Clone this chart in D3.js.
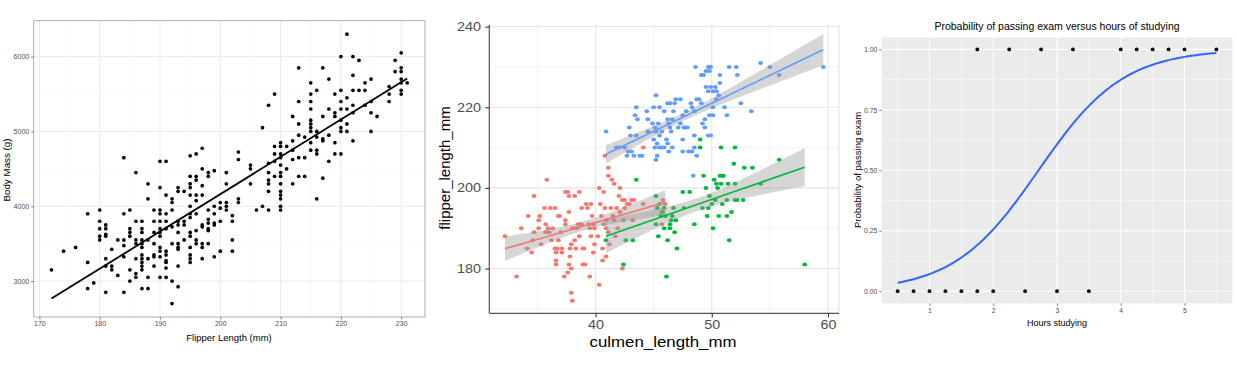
<!DOCTYPE html>
<html lang="en">
<head>
  <meta charset="UTF-8">
  <script src="https://d3js.org/d3.v7.min.js"></script>
  <title>penguins + logistic</title>
  <style>
    body { margin: 0; background: #fff; }
    svg { display: block; font-family: "Liberation Sans", Arial, sans-serif; }
  </style>
</head>
<body>
  <svg width="1237" height="378"></svg>
  <script>
    // ---- panel 1 : body mass by flipper length
    const bodyMassByFlipper = [
      [172, [3150]], [174, [3400]], [176, [3450]], [178, [3900, 3250, 2900]], [179, [2975]],
      [180, [3950, 3800, 3700, 3600, 3550]],
      [181, [3750, 3700, 3625, 3600, 3300, 3200, 2850]],
      [182, [3425, 3200, 3150]], [183, [3550, 3075]],
      [184, [4650, 3900, 3550, 3475, 3325, 2850]],
      [185, [3950, 3700, 3650, 3600, 3150, 3000]],
      [186, [4450, 3800, 3550, 3500, 3300, 3100, 3050]],
      [187, [3800, 3700, 3650, 3550, 3500, 3450, 3350, 3300, 3250, 3200, 3150, 2900]],
      [188, [4300, 4100, 3550, 3300, 3050, 2900]],
      [189, [3950, 3800, 3650, 3500, 3350, 3325, 3200]],
      [190, [4600, 4250, 3950, 3900, 3800, 3700, 3650, 3600, 3450, 3400, 3325, 3050]],
      [191, [4600, 4150, 3900, 3800, 3700, 3400, 3350, 3275, 3250, 3175, 3050]],
      [192, [4100, 4050, 3950, 3725, 3500, 3000, 2700]],
      [193, [4250, 4200, 3800, 3750, 3650, 3500, 3450, 3425, 3200, 2925]],
      [194, [4200, 3800, 3750, 3550]],
      [195, [4675, 4400, 4300, 4250, 4150, 4000, 3900, 3850, 3650, 3600, 3450, 3350, 3300, 3250]],
      [196, [4700, 4400, 4350, 4150, 4075, 3900, 3675, 3550, 3500]],
      [197, [4775, 4500, 4275, 4150, 3750, 3725, 3500, 3450, 3300]],
      [198, [4450, 4400, 3950, 3825, 3775, 3700, 3675, 3500]],
      [199, [4475, 4000, 3900, 3775, 3750, 3325]],
      [200, [4050, 3975, 3800, 3400]],
      [201, [4450, 4300, 4050, 4000, 3950]],
      [202, [3875, 3800, 3550, 3400]],
      [203, [4725, 4625, 4100, 4050]],
      [205, [4550, 4500, 4300]], [206, [3950]], [207, [5050, 4000]],
      [208, [5350, 4575, 4450, 4350, 4300, 4200, 3950]],
      [209, [5500, 4800, 4700, 4600, 4400]],
      [210, [4850, 4800, 4700, 4650, 4550, 4450, 4400, 4300, 4200, 4150, 4100, 4000, 3950]],
      [211, [4800, 4500]],
      [212, [5200, 4875, 4750, 4625, 4300]],
      [213, [5850, 5400, 5100, 4950, 4650, 4400]],
      [214, [4925, 4650, 4400]],
      [215, [5650, 5500, 5400, 5300, 5150, 5100, 5050, 5000, 4850, 4750]],
      [216, [5550, 5000, 4925, 4750, 4700, 4100]],
      [217, [5850, 5200, 4900, 4875, 4375]],
      [218, [5700, 5300, 4950, 4600]],
      [219, [5500, 5250, 5200, 4850, 4700]],
      [220, [6000, 5550, 5400, 5300, 5150, 5050, 5000, 4700]],
      [221, [6300, 5450, 5300, 5100, 5000]],
      [222, [6000, 5750, 5550, 5350, 5250, 4875]],
      [223, [5950, 5550]], [224, [5650, 5550, 5350]],
      [225, [5700, 5400, 5250, 5000]], [226, [5200]],
      [228, [5600, 5500, 5400]], [229, [5950, 5800]],
      [230, [6050, 5850, 5800, 5700, 5650, 5550, 5500]], [231, [5650]]
    ];
    const flipperTicks = [170, 180, 190, 200, 210, 220, 230];
    const massTicks = [3000, 4000, 5000, 6000];

    // ---- panel 2 : [culmen_length_mm, flipper_length_mm] per species
    const adelie = [
      [32.2,188],[33.2,178],[33.6,190],[34.1,185],[34.5,184],[34.7,198],[34.6,187],[34.2,193],[34.7,189],
      [35.1,192],[35.2,193],[35.1,190],[35.3,186],[35.6,195],[35.7,191],[35.7,189],[35.8,202],[35.9,190],
      [36.1,195],[36.0,189],[36.2,187],[36.3,190],[36.5,195],[36.5,185],[36.6,184],[36.6,182],[36.6,181],
      [36.7,185],[36.8,187],[36.8,193],[36.9,193],[37.0,189],[37.1,185],[37.1,184],[37.3,178],[37.4,199],
      [37.6,199],[37.7,198],[37.7,194],[37.4,192],[37.4,191],[37.6,179],[37.7,181],[37.8,183],[37.8,185],
      [37.9,186],[37.9,174],[38.0,172],[37.9,180],[38.0,190],[38.2,198],[38.2,190],[38.2,187],[38.3,185],
      [38.4,190],[38.5,191],[38.6,188],[38.6,199],[38.7,191],[38.8,195],[38.8,191],[38.9,181],[38.9,185],
      [39.0,185],[39.1,181],[39.2,196],[39.3,195],[39.4,191],[39.5,190],[39.5,178],[39.6,196],[39.6,188],
      [39.7,193],[39.8,191],[39.9,190],[39.8,184],[39.9,186],[40.2,188],[40.3,176],[40.4,196],[40.3,200],
      [40.5,193],[40.6,182],[40.7,199],[40.7,191],[40.6,185],[40.8,195],[40.9,190],[40.9,192],[40.9,183],
      [41.1,203],[41.1,205],[41.1,189],[41.2,186],[41.3,195],[41.4,202],[41.5,193],[41.6,201],[41.6,192],
      [41.7,188],[41.8,195],[41.9,190],[42.0,198],[42.1,200],[42.1,194],[42.3,197],[42.3,180],[42.4,192],
      [42.5,197],[42.5,195],[42.7,196],[42.9,196],[43.1,197],[43.3,197],[43.2,192],[40.8,208],[44.1,210],
      [44.1,196],[45.8,197],[46.0,196],[45.8,194],[45.7,191]
    ];
    const chinstrap = [
      [43.2,187],[43.5,202],[45.2,198],[45.2,191],[45.4,188],[45.5,196],[45.7,194],[45.6,193],[45.9,195],
      [46.0,193],[45.9,190],[46.1,178],[46.2,187],[46.4,191],[46.4,190],[46.5,192],[46.6,193],[46.7,195],
      [46.8,189],[46.9,192],[47.0,185],[47.5,199],[47.6,195],[48.1,199],[48.5,191],[49.2,195],[49.3,203],
      [49.5,200],[49.6,193],[49.7,195],[49.8,198],[50.0,196],[50.1,190],[50.2,202],[50.3,197],[50.4,201],
      [50.5,200],[50.6,193],[50.7,203],[50.9,203],[51.0,203],[50.8,201],[50.9,196],[51.3,193],[51.4,201],
      [51.3,197],[51.5,187],[51.7,194],[51.9,206],[52.0,201],[52.0,197],[52.2,197],[52.7,197],[52.8,205],
      [53.5,205],[54.2,201],[55.8,207],[58.0,181],[49.0,212],[49.0,210],[50.8,210],[52.0,210],[40.9,187],
      [42.6,187],[42.4,181],[45.3,195]
    ];
    const gentoo = [
      [40.9,214],[41.8,210],[42.0,210],[42.8,209],[42.7,208],[43.1,209],[43.3,208],[43.8,208],[44.0,208],
      [42.9,215],[43.5,220],[43.4,218],[43.6,217],[43.5,213],[44.4,219],[44.5,214],[44.5,217],[45.0,220],
      [45.2,223],[45.1,215],[45.0,212],[45.2,214],[45.3,211],[45.5,210],[45.1,210],[45.7,210],[45.9,210],
      [45.2,207],[45.3,208],[45.5,220],[45.7,214],[45.9,219],[46.1,212],[46.2,221],[46.4,221],[46.2,217],
      [46.3,216],[46.4,215],[46.6,217],[46.2,211],[46.3,209],[46.6,210],[46.7,219],[46.9,222],[47.3,222],
      [47.1,215],[47.3,216],[47.5,218],[47.6,215],[47.5,212],[47.7,215],[47.9,215],[47.5,209],[48.0,209],
      [48.2,221],[48.3,220],[48.5,219],[48.7,222],[48.9,222],[49.1,221],[48.5,213],[48.5,210],[48.3,209],
      [49.2,216],[49.4,215],[49.4,217],[49.7,213],[48.6,230],[49.3,228],[49.5,229],[49.7,230],[49.9,230],
      [49.8,229],[49.1,228],[49.5,225],[49.7,224],[49.9,225],[50.1,224],[50.3,225],[50.4,224],[50.7,226],
      [50.7,228],[50.6,223],[50.1,220],[50.4,222],[49.8,218],[50.1,218],[51.3,218],[51.1,220],[51.5,230],
      [52.1,230],[52.2,228],[52.5,221],[53.4,219],[54.2,231],[55.0,230],[55.8,228],[59.6,230],[48.4,203],
      [49.9,213],[48.7,208],[42.5,210],[43.0,213],[44.9,216],[45.4,216],[46.8,221],[45.5,213],[46.5,214],
      [47.8,219]
    ];
    const culmenTicks = [40, 50, 60];
    const flipperLenTicks = [180, 200, 220, 240];

    // ---- panel 3 : hours studied vs pass (0/1)
    const hoursStudied = [0.5, 0.75, 1, 1.25, 1.5, 1.75, 1.75, 2, 2.25, 2.5, 2.75, 3, 3.25, 3.5, 4, 4.25, 4.5, 4.75, 5, 5.5];
    const passedExam   = [0, 0, 0, 0, 0, 0, 1, 0, 1, 0, 1, 0, 1, 0, 1, 1, 1, 1, 1, 1];
    const hoursTicks = [1, 2, 3, 4, 5];
    const probTicks = [0, 0.25, 0.5, 0.75, 1];

    const svg = d3.select("svg");

    // least squares line with 95% band, like geom_smooth(method = "lm")
    function linearFit(pts, steps) {
      const n = pts.length;
      const mx = d3.mean(pts, d => d[0]), my = d3.mean(pts, d => d[1]);
      const sxx = d3.sum(pts, d => (d[0] - mx) ** 2);
      const sxy = d3.sum(pts, d => (d[0] - mx) * (d[1] - my));
      const b = sxy / sxx, a = my - b * mx;
      const s = Math.sqrt(d3.sum(pts, d => (d[1] - a - b * d[0]) ** 2) / (n - 2));
      const t = 1.96 + 2.4 / (n - 2);
      const [lo, hi] = d3.extent(pts, d => d[0]);
      return d3.range(steps).map(i => {
        const x = lo + (hi - lo) * i / (steps - 1);
        const y = a + b * x;
        const se = s * Math.sqrt(1 / n + (x - mx) ** 2 / sxx);
        return { x, y, lo: y - t * se, hi: y + t * se };
      });
    }

    // logistic regression by newton steps, like glm(family = binomial)
    function logisticFit(xs, ys) {
      let b0 = 0, b1 = 0;
      for (let it = 0; it < 40; it++) {
        let g0 = 0, g1 = 0, h00 = 0, h01 = 0, h11 = 0;
        xs.forEach((x, i) => {
          const p = 1 / (1 + Math.exp(-(b0 + b1 * x)));
          const w = p * (1 - p);
          g0 += ys[i] - p; g1 += (ys[i] - p) * x;
          h00 += w; h01 += w * x; h11 += w * x * x;
        });
        const det = h00 * h11 - h01 * h01;
        b0 += (h11 * g0 - h01 * g1) / det;
        b1 += (-h01 * g0 + h00 * g1) / det;
      }
      return x => 1 / (1 + Math.exp(-(b0 + b1 * x)));
    }

    function styleAxis(g, size, color) {
      g.attr("font-family", null).attr("font-size", size);
      g.select(".domain").remove();
      g.selectAll(".tick line").attr("stroke", "#333").attr("stroke-width", 0.6);
      g.selectAll(".tick text").attr("fill", color);
    }

    // ================= panel 1 =================
    const penguinMass = bodyMassByFlipper.flatMap(([f, ms]) => ms.map(m => [f, m]));
    const x1 = d3.scaleLinear().domain([169.05, 233.95]).range([33.7, 425]);
    const y1 = d3.scaleLinear().domain([2520, 6480]).range([317, 20.7]);
    const p1 = svg.append("g");

    const minorX1 = flipperTicks.map(v => v + 5).filter(v => v < 233.95);
    const minorY1 = massTicks.map(v => v - 500).concat([6500]).filter(v => v > 2520 && v < 6480);
    p1.selectAll("line.minx").data(minorX1).enter().append("line")
      .attr("x1", d => x1(d)).attr("x2", d => x1(d)).attr("y1", 20.7).attr("y2", 317)
      .attr("stroke", "#F2F2F2").attr("stroke-width", 0.5);
    p1.selectAll("line.miny").data(minorY1).enter().append("line")
      .attr("x1", 33.7).attr("x2", 425).attr("y1", d => y1(d)).attr("y2", d => y1(d))
      .attr("stroke", "#F2F2F2").attr("stroke-width", 0.5);
    p1.selectAll("line.majx").data(flipperTicks).enter().append("line")
      .attr("x1", d => x1(d)).attr("x2", d => x1(d)).attr("y1", 20.7).attr("y2", 317)
      .attr("stroke", "#EBEBEB").attr("stroke-width", 1);
    p1.selectAll("line.majy").data(massTicks).enter().append("line")
      .attr("x1", 33.7).attr("x2", 425).attr("y1", d => y1(d)).attr("y2", d => y1(d))
      .attr("stroke", "#EBEBEB").attr("stroke-width", 1);

    p1.selectAll("circle").data(penguinMass).enter().append("circle")
      .attr("cx", d => x1(d[0])).attr("cy", d => y1(d[1])).attr("r", 1.85).attr("fill", "#000");

    const fit1 = linearFit(penguinMass, 2);
    p1.append("path")
      .attr("d", d3.line().x(d => x1(d.x)).y(d => y1(d.y))(fit1))
      .attr("fill", "none").attr("stroke", "#000").attr("stroke-width", 1.8);

    p1.append("rect").attr("x", 33.7).attr("y", 20.7).attr("width", 425 - 33.7).attr("height", 317 - 20.7)
      .attr("fill", "none").attr("stroke", "#999").attr("stroke-width", 0.8);

    p1.append("g").attr("transform", "translate(0,317)")
      .call(d3.axisBottom(x1).tickValues(flipperTicks).tickFormat(d3.format("d")).tickSize(2.5).tickPadding(2))
      .call(g => styleAxis(g, 7, "#4D4D4D"));
    p1.append("g").attr("transform", "translate(33.7,0)")
      .call(d3.axisLeft(y1).tickValues(massTicks).tickFormat(d3.format("d")).tickSize(2.5).tickPadding(2))
      .call(g => styleAxis(g, 7, "#4D4D4D"));

    p1.append("text").attr("x", 229).attr("y", 340.5).attr("text-anchor", "middle")
      .attr("font-size", 9.5).text("Flipper Length (mm)");
    p1.append("text").attr("transform", "translate(10,170) rotate(-90)").attr("text-anchor", "middle")
      .attr("font-size", 9.8).text("Body Mass (g)");

    // ================= panel 2 =================
    const x2 = d3.scaleLinear().domain([30.85, 60.95]).range([489.3, 839]);
    const y2 = d3.scaleLinear().domain([168.9, 240.4]).range([313.3, 25]);
    const p2 = svg.append("g");
    const species = [
      { name: "adelie", pts: adelie, color: "#F8766D" },
      { name: "chinstrap", pts: chinstrap, color: "#00BA38" },
      { name: "gentoo", pts: gentoo, color: "#619CFF" }
    ];

    const minorX2 = [35, 45, 55];
    const minorY2 = [170, 190, 210, 230];
    p2.selectAll("line.minx").data(minorX2).enter().append("line")
      .attr("x1", d => x2(d)).attr("x2", d => x2(d)).attr("y1", 25).attr("y2", 313.3)
      .attr("stroke", "#EDEDED").attr("stroke-width", 0.7);
    p2.selectAll("line.miny").data(minorY2).enter().append("line")
      .attr("x1", 489.3).attr("x2", 839).attr("y1", d => y2(d)).attr("y2", d => y2(d))
      .attr("stroke", "#EDEDED").attr("stroke-width", 0.7);
    p2.selectAll("line.majx").data(culmenTicks).enter().append("line")
      .attr("x1", d => x2(d)).attr("x2", d => x2(d)).attr("y1", 25).attr("y2", 313.3)
      .attr("stroke", "#E6E6E6").attr("stroke-width", 1.1);
    p2.selectAll("line.majy").data(flipperLenTicks).enter().append("line")
      .attr("x1", 489.3).attr("x2", 839).attr("y1", d => y2(d)).attr("y2", d => y2(d))
      .attr("stroke", "#E6E6E6").attr("stroke-width", 1.1);

    species.forEach(sp => {
      p2.selectAll(`ellipse.${sp.name}`).data(sp.pts).enter().append("ellipse")
        .attr("class", sp.name)
        .attr("cx", d => x2(d[0])).attr("cy", d => y2(d[1]))
        .attr("rx", 2.4).attr("ry", 2).attr("fill", sp.color);
    });
    species.forEach(sp => {
      const fit = linearFit(sp.pts, 80);
      p2.append("path")
        .attr("d", d3.area().x(d => x2(d.x)).y0(d => y2(d.lo)).y1(d => y2(d.hi))(fit))
        .attr("fill", "#999").attr("fill-opacity", 0.4);
      sp.fit = fit;
    });
    species.forEach(sp => {
      p2.append("path")
        .attr("d", d3.line().x(d => x2(d.x)).y(d => y2(d.y))(sp.fit))
        .attr("fill", "none").attr("stroke", sp.color).attr("stroke-width", 1.6);
    });

    p2.append("line").attr("x1", 839).attr("x2", 839).attr("y1", 25).attr("y2", 313.3)
      .attr("stroke", "#D9D9D9").attr("stroke-width", 0.8);
    p2.append("line").attr("x1", 489.3).attr("x2", 489.3).attr("y1", 25).attr("y2", 313.3)
      .attr("stroke", "#555").attr("stroke-width", 1.2);
    p2.append("line").attr("x1", 489.3).attr("x2", 839).attr("y1", 313.3).attr("y2", 313.3)
      .attr("stroke", "#555").attr("stroke-width", 1.2);

    p2.append("g").attr("transform", "translate(0,313.3)")
      .call(d3.axisBottom(x2).tickValues(culmenTicks).tickFormat(d3.format("d")).tickSize(4).tickPadding(3))
      .call(g => styleAxis(g, 12, "#4D4D4D"))
      .call(g => g.selectAll(".tick text").attr("transform", "scale(1.2,1)"))
      .call(g => g.selectAll(".tick line").attr("stroke-width", 1.1));
    p2.append("g").attr("transform", "translate(489.3,0)")
      .call(d3.axisLeft(y2).tickValues(flipperLenTicks).tickFormat(d3.format("d")).tickSize(4).tickPadding(3))
      .call(g => styleAxis(g, 12, "#4D4D4D"))
      .call(g => g.selectAll(".tick text").attr("transform", "scale(1.2,1)"))
      .call(g => g.selectAll(".tick line").attr("stroke-width", 1.1));

    p2.append("text").attr("x", 663).attr("y", 347).attr("text-anchor", "middle")
      .attr("font-size", 14.5).attr("textLength", 147).attr("lengthAdjust", "spacingAndGlyphs")
      .text("culmen_length_mm");
    p2.append("text").attr("transform", "translate(450,168) rotate(-90)").attr("text-anchor", "middle")
      .attr("font-size", 15).text("flipper_length_mm");

    // ================= panel 3 =================
    const x3 = d3.scaleLinear().domain([0.25, 5.75]).range([881.7, 1232.3]);
    const y3 = d3.scaleLinear().domain([-0.05, 1.05]).range([303.3, 37.3]);
    const p3 = svg.append("g");

    p3.append("rect").attr("x", 881.7).attr("y", 37.3).attr("width", 1232.3 - 881.7).attr("height", 303.3 - 37.3)
      .attr("fill", "#EBEBEB");
    const minorX3 = [0.5, 1.5, 2.5, 3.5, 4.5, 5.5];
    const minorY3 = [0.125, 0.375, 0.625, 0.875];
    p3.selectAll("line.minx").data(minorX3).enter().append("line")
      .attr("x1", d => x3(d)).attr("x2", d => x3(d)).attr("y1", 37.3).attr("y2", 303.3)
      .attr("stroke", "#fff").attr("stroke-width", 0.5);
    p3.selectAll("line.miny").data(minorY3).enter().append("line")
      .attr("x1", 881.7).attr("x2", 1232.3).attr("y1", d => y3(d)).attr("y2", d => y3(d))
      .attr("stroke", "#fff").attr("stroke-width", 0.5);
    p3.selectAll("line.majx").data(hoursTicks).enter().append("line")
      .attr("x1", d => x3(d)).attr("x2", d => x3(d)).attr("y1", 37.3).attr("y2", 303.3)
      .attr("stroke", "#fff").attr("stroke-width", 1);
    p3.selectAll("line.majy").data(probTicks).enter().append("line")
      .attr("x1", 881.7).attr("x2", 1232.3).attr("y1", d => y3(d)).attr("y2", d => y3(d))
      .attr("stroke", "#fff").attr("stroke-width", 1);

    const pass = logisticFit(hoursStudied, passedExam);
    const curveX = d3.range(101).map(i => d3.min(hoursStudied) + (d3.max(hoursStudied) - d3.min(hoursStudied)) * i / 100);
    p3.append("path")
      .attr("d", d3.line().x(d => x3(d)).y(d => y3(pass(d)))(curveX))
      .attr("fill", "none").attr("stroke", "#3366FF").attr("stroke-width", 2);

    p3.selectAll("circle").data(hoursStudied).enter().append("circle")
      .attr("cx", d => x3(d)).attr("cy", (d, i) => y3(passedExam[i])).attr("r", 1.9).attr("fill", "#000");

    p3.append("g").attr("transform", "translate(0,303.3)")
      .call(d3.axisBottom(x3).tickValues(hoursTicks).tickFormat(d3.format("d")).tickSize(2.5).tickPadding(2))
      .call(g => styleAxis(g, 6.8, "#4D4D4D"));
    p3.append("g").attr("transform", "translate(881.7,0)")
      .call(d3.axisLeft(y3).tickValues(probTicks).tickFormat(d3.format(".2f")).tickSize(2.5).tickPadding(2))
      .call(g => styleAxis(g, 6.8, "#4D4D4D"));

    p3.append("text").attr("x", 1057).attr("y", 29.5).attr("text-anchor", "middle")
      .attr("font-size", 10.5).text("Probability of passing exam versus hours of studying");
    p3.append("text").attr("x", 1057).attr("y", 325.5).attr("text-anchor", "middle")
      .attr("font-size", 9).text("Hours studying");
    p3.append("text").attr("transform", "translate(861,170) rotate(-90)").attr("text-anchor", "middle")
      .attr("font-size", 9.5).text("Probability of passing exam");
  </script>
</body>
</html>
